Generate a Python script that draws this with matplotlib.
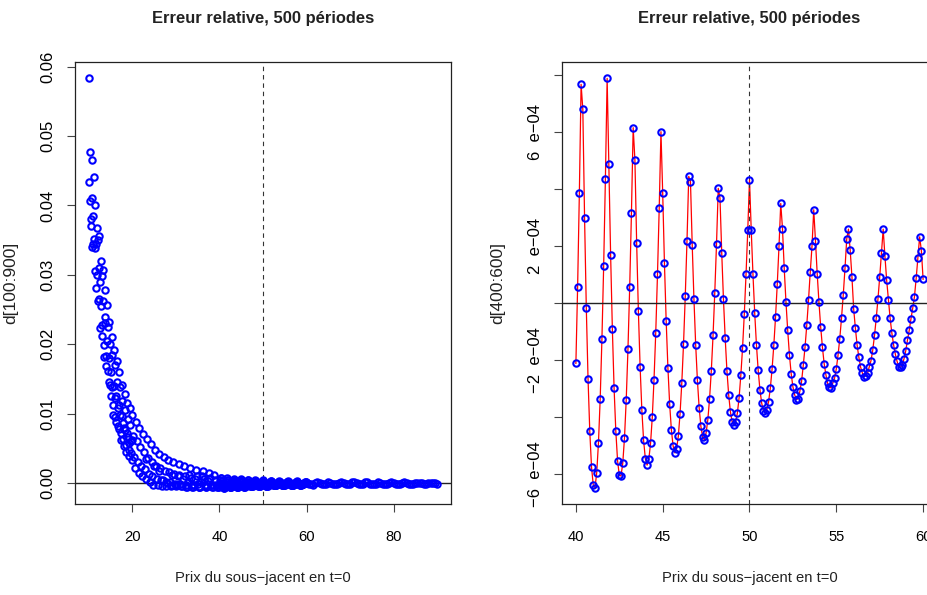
#!/usr/bin/env python3

import numpy as np
import matplotlib
matplotlib.use('Agg')
import matplotlib.pyplot as plt
from matplotlib import font_manager

# relative error d[i], S0 = 10.0 ... 20.0 (step 0.1)
d_low = [
	.0583, .0434, .0407, .0477, .0381, .0370, .0410, .0465, .0340, .0345,
	.0385, .0441, .0352, .0306, .0338, .0400, .0345, .0281, .0300, .0367,
	.0350, .0262, .0265, .0310, .0356, .0290, .0223, .0255, .0320, .0298,
	.0212, .0228, .0307, .0262, .0199, .0182, .0230, .0278, .0240, .0183,
	.0168, .0205, .0257, .0225, .0161, .0145, .0180, .0232, .0200, .0142,
	.0126, .0160, .0210, .0185, .0138, .0112, .0098, .0140, .0192, .0170,
	.0122, .0095, .0088, .0125, .0176, .0145, .0108, .0082, .0078, .0112,
	.0160, .0138, .0098, .0072, .0062, .0096, .0142, .0118, .0086, .0063,
	.0053, .0080, .0128, .0105, .0076, .0055, .0045, .0072, .0115, .0092,
	.0066, .0048, .0039, .0058, .0108, .0084, .0060, .0043, .0033, .0062,
	.0098,
]
# S0 = 20.2 ... 39.8 (step 0.2)
d_low2 = [
	.0068, .0038, .0022, .0088, .0060, .0030, .0015, .0080, .0052, .0024,
	.0010, .0071, .0045, .0020, .0006, .0035, .0064, .0036, .0013, .0001,
	.0056, .0030, .0010, -.0002, .0025, .0048, .0024, .0006, -.0003, .0018,
	.0042, .0022, .0005, -.0004, .0005, .0038, .0018, .0002, -.0004, .0000,
	.0034, .0016, .0001, -.0004, -.0002, .0012, .0031, .0013, -.0001, -.0004,
	-.0003, .0010, .0028, .0011, -.0001, -.0004, -.0004, .0006, .0025, .0010,
	-.0002, -.0005, -.0005, .0001, .0012, .0022, .0008, -.0002, -.0005, -.0006,
	-.0003, .0006, .0019, .0010, -.0001, -.0005, -.0006, -.0005, .0001, .0010,
	.0017, .0006, -.0003, -.0006, -.0006, -.0004, .0003, .0014, .0007, -.0002,
	-.0005, -.0006, -.0003, .0011, .0004, -.0002, -.0005, -.0006, -.0005,
]
# d[400:600], S0 = 40.0 ... 60.0 (step 0.1), in units of 1e-4
d_mid = [
	-2.13, 0.56, 3.85, 7.66, 6.78, 2.97, -0.19, -2.68, -4.51, -5.76,
	-6.40, -6.49, -5.97, -4.92, -3.37, -1.27, 1.29, 4.35, 7.87, 4.87,
	1.69, -0.91, -3.00, -4.51, -5.54, -6.06, -6.08, -5.63, -4.74, -3.40,
	-1.62, 0.56, 3.16, 6.14, 5.00, 2.10, -0.31, -2.26, -3.78, -4.83,
	-5.47, -5.70, -5.50, -4.94, -4.02, -2.70, -1.05, 0.99, 3.33, 6.00,
	3.85, 1.40, -0.64, -2.28, -3.55, -4.46, -5.03, -5.27, -5.12, -4.69,
	-3.89, -2.82, -1.45, 0.23, 2.18, 4.43, 4.25, 2.03, 0.12, -1.48,
	-2.73, -3.69, -4.34, -4.71, -4.81, -4.57, -4.11, -3.37, -2.39, -1.15,
	0.35, 2.06, 4.01, 3.67, 1.76, 0.12, -1.25, -2.39, -3.23, -3.83,
	-4.18, -4.29, -4.18, -3.88, -3.34, -2.55, -1.59, -0.40, 0.99, 2.54,
	4.32, 2.54, 0.99, -0.36, -1.48, -2.37, -3.05, -3.52, -3.79, -3.87,
	-3.75, -3.47, -3.00, -2.33, -1.50, -0.50, 0.66, 1.99, 3.48, 2.60,
	1.20, 0.03, -0.97, -1.83, -2.49, -2.95, -3.23, -3.40, -3.37, -3.11,
	-2.76, -2.18, -1.55, -0.78, 0.10, 1.08, 1.98, 3.26, 2.17, 1.01,
	0.02, -0.85, -1.56, -2.14, -2.53, -2.83, -2.97, -2.99, -2.82, -2.65,
	-2.32, -1.84, -1.26, -0.54, 0.27, 1.20, 2.23, 2.58, 1.84, 0.91,
	-0.22, -0.90, -1.50, -1.92, -2.26, -2.47, -2.60, -2.56, -2.47, -2.25,
	-2.03, -1.66, -1.15, -0.55, 0.13, 0.90, 1.76, 2.58, 1.64, 0.79,
	0.10, -0.55, -1.07, -1.48, -1.81, -2.06, -2.24, -2.27, -2.18, -1.97,
	-1.69, -1.31, -0.97, -0.57, -0.20, 0.20, 0.85, 1.57, 2.31, 1.83,
	0.82,
]
# S0 = 60.5 ... 90.0 (step 0.5), in units of 1e-4
d_high = [
	-1.2, -1.9, -2.1, -0.4, 2.0, 0.0, -1.4, -1.9, -1.2, 1.7,
	0.6, -1.0, -1.6, -1.5, 0.3, 1.6, -0.1, -1.2, -1.5, -1.0,
	1.0, 1.2, -0.5, -1.2, -1.4, -0.8, 0.9, 1.0, -0.6, -1.1,
	-1.2, -0.6, 1.1, 0.3, -0.8, -1.1, -1.0, -0.2, 1.0, 0.1,
	-0.8, -1.0, -0.9, 0.0, 0.9, 0.1, -0.7, -0.9, -0.8, -0.2,
	0.8, 0.4, -0.5, -0.8, -0.8, -0.4, 0.5, 0.7, -0.2, -0.6,
]

TITLE = 'Erreur relative, 500 périodes'
XLABEL = 'Prix du sous\u2212jacent en t=0'
LEFT_YTICKS = [0.00, 0.01, 0.02, 0.03, 0.04, 0.05, 0.06]
LEFT_XTICKS = [20, 40, 60, 80]
RIGHT_XTICKS = [40, 45, 50, 55, 60]
RIGHT_YTICKS = [-6e-4, -4e-4, -2e-4, 0, 2e-4, 4e-4, 6e-4, 8e-4]
RIGHT_YLABELS = ['\u22126  e\u221204', '', '\u22122  e\u221204', '', '2  e\u221204', '', '6  e\u221204', '']


def pick(*names):
	for n in names:
		try:
			font_manager.findfont(font_manager.FontProperties(family=n), fallback_to_default=False)
			return n
		except ValueError:
			pass
	return 'DejaVu Sans'


NARROW = pick('Liberation Sans Narrow', 'Liberation Sans')
NS = 1.0 if NARROW == 'Liberation Sans Narrow' else 0.85
REG = pick('Liberation Sans', 'DejaVu Sans')


def rlim(v):
	lo, hi = np.min(v), np.max(v)
	r = hi - lo
	return lo - 0.04 * r, hi + 0.04 * r


def style(ax, xt, yt, ylabels):
	for s in ax.spines.values():
		s.set_linewidth(0.9)
		s.set_color('#222222')
	ax.set_xticks(xt)
	ax.set_xticklabels([str(t) for t in xt], fontfamily=NARROW, fontsize=12.5 * NS)
	ax.set_yticks(yt)
	ax.set_yticklabels(ylabels, fontfamily=REG, fontsize=12, rotation=90, va='center')
	ax.tick_params(axis='x', length=6, width=0.8, color='#444444', pad=13)
	ax.tick_params(axis='y', length=6, width=0.8, color='#444444', pad=8)
	ax.set_xlabel(XLABEL, fontfamily=NARROW, fontsize=12.5 * NS, labelpad=19, color='#222222')
	ax.axvline(50, color='#333333', lw=0.8, ls=(0, (4, 3.5)))
	ax.axhline(0, color='#222222', lw=1.0)


x_low = 10.0 + 0.1 * np.arange(len(d_low))
x_low2 = 20.2 + 0.2 * np.arange(len(d_low2))
x_mid = 40.0 + 0.1 * np.arange(len(d_mid))
x_high = 60.5 + 0.5 * np.arange(len(d_high))

mid = np.array(d_mid) * 1e-4
high = np.array(d_high) * 1e-4

xs = np.concatenate([x_low, x_low2, x_mid, x_high])
ys = np.concatenate([d_low, d_low2, mid, high])

W, H = 927, 595
fig = plt.figure(figsize=(W / 100, H / 100), dpi=100)

ax1 = fig.add_axes([75 / W, 91 / H, 376 / W, 442 / H])
ax1.plot(xs, ys, 'o', mfc='none', mec='#0000ff', ms=4.6, mew=1.5, zorder=3)
ax1.set_xlim(rlim(np.array([10, 90])))
ax1.set_ylim(rlim(ys))
style(ax1, LEFT_XTICKS, LEFT_YTICKS, ['%.2f' % t for t in LEFT_YTICKS])
ax1.set_ylabel('d[100:900]', fontfamily=REG, fontsize=12.5, color='#222222')
ax1.yaxis.set_label_coords(-0.152, 0.5)

ax2 = fig.add_axes([562 / W, 91 / H, 375 / W, 442 / H])
ax2.plot(x_mid, mid, color='#ff0000', lw=0.9, zorder=2)
ax2.plot(x_mid, mid, 'o', mfc='none', mec='#0000ff', ms=4.6, mew=1.5, zorder=3)
ax2.set_xlim(rlim(x_mid))
ax2.set_ylim(rlim(mid))
style(ax2, RIGHT_XTICKS, RIGHT_YTICKS, RIGHT_YLABELS)
ax2.set_ylabel('d[400:600]', fontfamily=REG, fontsize=12.5, color='#222222')
ax2.yaxis.set_label_coords(-0.152, 0.5)

for cx in (263, 749):
	fig.text(cx / W, 1 - 18 / H, TITLE, ha='center', va='center', fontfamily=NARROW,
		fontsize=14 * NS, fontweight='bold', color='#222222')

fig.savefig('out.png', dpi=100)
plt.close(fig)
